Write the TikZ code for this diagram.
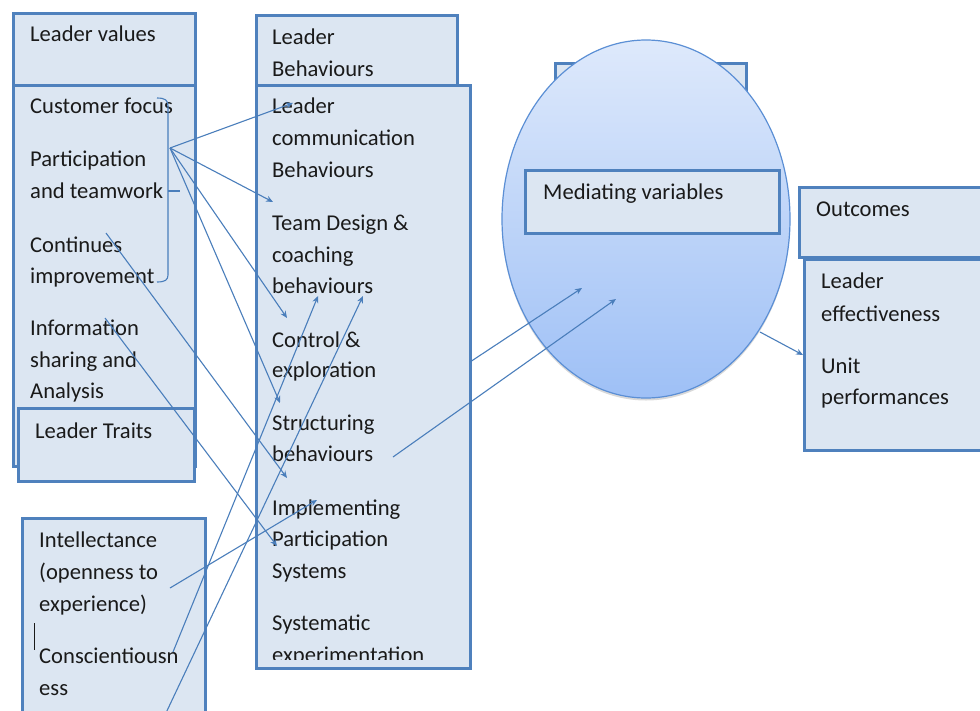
\documentclass[tikz,border=0pt]{standalone}
\usepackage{fontspec}
\setmainfont{Carlito}
\usetikzlibrary{arrows.meta,shapes.geometric}
\definecolor{boxfill}{HTML}{DCE6F2}
\definecolor{boxline}{HTML}{4F81BD}
\definecolor{arrowc}{HTML}{4A7EBB}
\definecolor{elltop}{HTML}{DEE9FB}
\definecolor{ellbot}{HTML}{9EC0F6}
\definecolor{ellline}{HTML}{5B8FD5}
\definecolor{txt}{HTML}{1A1A1A}
\begin{document}
\begin{tikzpicture}[x=1pt,y=-1pt,
  box/.style={draw=boxline, fill=boxfill, line width=2.6pt, rectangle, inner sep=0pt, anchor=north west},
  lbl/.style={anchor=base west, inner sep=0pt, font=\fontsize{22.6}{26}\selectfont, text=txt},
  conn/.style={draw=arrowc, line width=1.1pt},
  arr/.style={conn, -{Stealth[length=7pt,width=6pt]}},
]
\useasboundingbox (0,0) rectangle (980,710);
\fill[white] (0,0) rectangle (980,710);

% boxes
\node[box, minimum width=182pt, minimum height=72pt] (lvh) at (12,12) {};
\node[box, minimum width=182pt, minimum height=381pt] (lvl) at (12,84) {};
\node[box, minimum width=176pt, minimum height=73pt] (ltr) at (17,407) {};
\node[box, minimum width=183pt, minimum height=215pt] (int) at (21,517) {};
\node[box, minimum width=201pt, minimum height=72pt] (lbh) at (255,14) {};
\node[box, minimum width=214pt, minimum height=583pt] (lbl) at (255,84) {};
\node[box, minimum width=191pt, minimum height=80pt] (back) at (554,62) {};
\fill[black, opacity=0.15] (646,221.5) ellipse [x radius=144pt, y radius=179pt];
\node[ellipse, minimum width=288pt, minimum height=358pt, inner sep=0pt,
      top color=elltop, bottom color=ellbot, draw=ellline, line width=1.2pt] (med) at (646,219) {};
\node[box, minimum width=254pt, minimum height=63pt] (mvb) at (524,169) {};
\node[box, minimum width=200pt, minimum height=70pt] (och) at (798,186) {};
\node[box, minimum width=200pt, minimum height=191pt] (ocl) at (803,258) {};

% texts: left column
\node[lbl] (t1) at (30,41) {Leader values};
\node[lbl] (t2) at (30,113) {Customer focus};
\node[lbl] (t3) at (30,166) {Participation};
\node[lbl] (t4) at (30,198) {and teamwork};
\node[lbl] (t5) at (30,252) {Continues};
\node[lbl] (t6) at (30,283) {improvement};
\node[lbl] (t7) at (30,335) {Information};
\node[lbl] (t8) at (30,367) {sharing and};
\node[lbl] (t9) at (30,398) {Analysis};
\node[lbl] (t10) at (35,438) {Leader Traits};
\node[lbl] (t11) at (39,547) {Intellectance};
\node[lbl] (t12) at (39,579) {(openness to};
\node[lbl] (t13) at (39,611) {experience)};
\node[lbl] (t14) at (39,663) {Conscientiousn};
\node[lbl] (t15) at (39,695) {ess};
% middle column
\node[lbl] (b1) at (272,44) {Leader};
\node[lbl] (b2) at (272,76) {Behaviours};
\node[lbl] (b3) at (272,113) {Leader};
\node[lbl] (b4) at (272,145) {communication};
\node[lbl] (b5) at (272,177) {Behaviours};
\node[lbl] (b6) at (272,230) {Team Design \&};
\node[lbl] (b7) at (272,262) {coaching};
\node[lbl] (b8) at (272,293) {behaviours};
\node[lbl] (b9) at (272,347) {Control \&};
\node[lbl] (b10) at (272,377) {exploration};
\node[lbl] (b11) at (272,430) {Structuring};
\node[lbl] (b12) at (272,461) {behaviours};
\node[lbl] (b13) at (272,515) {Implementing};
\node[lbl] (b14) at (272,546) {Participation};
\node[lbl] (b15) at (272,578) {Systems};
\node[lbl] (b16) at (272,630) {Systematic};
\begin{scope}
\clip (256,600) rectangle (468,659);
\node[lbl] (b17) at (272,662) {experimentation};
\end{scope}
% right
\node[lbl] (m1) at (543,199) {Mediating variables};
\node[lbl] (o1) at (816,216) {Outcomes};
\node[lbl] (o2) at (821,288) {Leader};
\node[lbl] (o3) at (821,321) {effectiveness};
\node[lbl] (o4) at (821,373) {Unit};
\node[lbl] (o5) at (821,404) {performances};

% cursor bar
\draw[txt, line width=1pt] (34,623) -- (34,650);

% bracket
\draw[conn] (157,98) .. controls (165,98) and (168,100) .. (168,106) -- (168,275)
  .. controls (168,280) and (165,282) .. (157,282);
\draw[conn] (168,191) -- (180,191);

% connector coordinates
\coordinate (pt) at (170,148);
\coordinate (eLc) at (293,103);
\coordinate (eTd) at (273,202);
\coordinate (eCo) at (287,318);
\coordinate (eSt) at (280,403);
\coordinate (sCi) at (106,233);
\coordinate (eCi) at (287,478);
\coordinate (sIs) at (105,318);
\coordinate (eIs) at (277,546);
\coordinate (sIx) at (170,588);
\coordinate (eIx) at (317,500);
\coordinate (sCs) at (173,652);
\coordinate (eCs) at (318,296);
\coordinate (sCb) at (165,715);
\coordinate (eCb) at (363,296);
\coordinate (sSb) at (393,457);
\coordinate (eSb) at (616,299);
\coordinate (sBx) at (470,362);
\coordinate (eBx) at (582,288);
\coordinate (sMe) at (760,332);
\coordinate (eMe) at (803,355);

\draw[arr] (pt) -- (eLc);
\draw[arr] (pt) -- (eTd);
\draw[arr] (pt) -- (eCo);
\draw[arr] (pt) -- (eSt);
\draw[arr] (sCi) -- (eCi);
\draw[arr] (sIs) -- (eIs);
\draw[arr] (sIx) -- (eIx);
\draw[arr] (sCs) -- (eCs);
\draw[arr] (sCb) -- (eCb);
\draw[arr] (sSb) -- (eSb);
\draw[arr] (sBx) -- (eBx);
\draw[arr] (sMe) -- (eMe);
\end{tikzpicture}
\end{document}
